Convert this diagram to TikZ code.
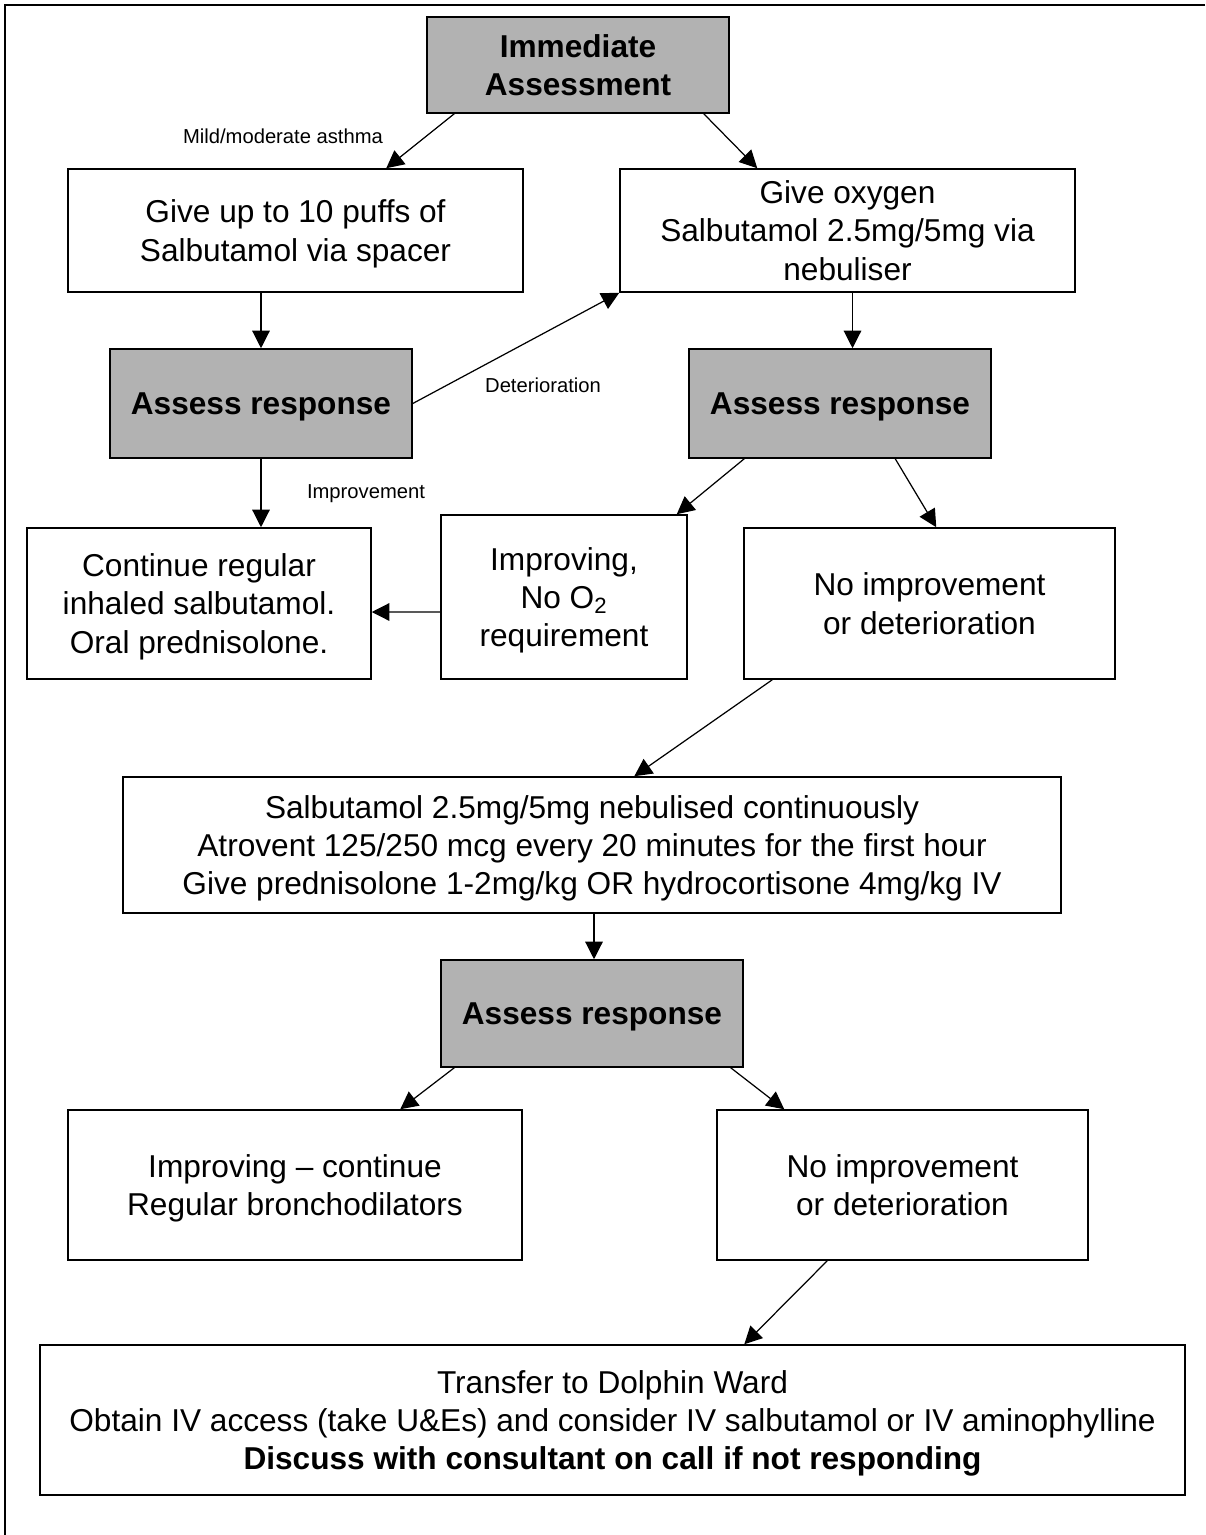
\documentclass[tikz,border=0pt]{standalone}
\usepackage{fontspec}
\setmainfont{Liberation Sans}
\usetikzlibrary{arrows.meta,calc}
\definecolor{boxgray}{RGB}{178,178,178}
\tikzset{
  flowbox/.style = {
    draw, line width=0.9pt, align=center, inner sep=0pt, text depth=-1pt,
    font=\fontsize{18}{21.8}\selectfont
  },
  assessbox/.style = {
    flowbox, fill=boxgray,
    font=\fontsize{18}{21.8}\selectfont\bfseries
  },
  note/.style = {font=\fontsize{11.5}{13}\selectfont},
  flow/.style = {->, line width=0.7pt}
}
\tikzset{>={Triangle[length=10pt,width=10pt]}}

\begin{document}
\begin{tikzpicture}[x=0.02cm,y=-0.02cm]
  \useasboundingbox (0,0) rectangle (1205,1535);
  \draw[line width=1.2pt] (1205,5) -- (5,5) -- (5,1535);

  % boxes
  \node[assessbox, minimum width=6.04cm, minimum height=1.92cm] (immediate) at (578,65) {Immediate\\Assessment};
  \node[flowbox, minimum width=9.1cm, minimum height=2.46cm] (puffs) at (295.5,230.5) {Give up to 10 puffs of\\Salbutamol via spacer};
  \node[flowbox, minimum width=9.1cm, minimum height=2.46cm] (oxygen) at (847.5,230.5) {Give oxygen\\Salbutamol 2.5mg/5mg via\\nebuliser};
  \node[assessbox, minimum width=6.04cm, minimum height=2.18cm] (assessA) at (261,403.5) {Assess response};
  \node[assessbox, minimum width=6.04cm, minimum height=2.18cm] (assessB) at (840,403.5) {Assess response};
  \node[flowbox, minimum width=6.88cm, minimum height=3.02cm] (regular) at (199,603.5) {Continue regular\\inhaled salbutamol.\\Oral prednisolone.};
  \node[flowbox, minimum width=4.92cm, minimum height=3.28cm] (noox) at (564,597) {Improving,\\No O\textsubscript{2}\\requirement};
  \node[flowbox, minimum width=7.42cm, minimum height=3.02cm] (worseA) at (929.5,603.5) {No improvement\\or deterioration};
  \node[flowbox, minimum width=18.76cm, minimum height=2.72cm] (continuous) at (592,845) {Salbutamol 2.5mg/5mg nebulised continuously\\Atrovent 125/250 mcg every 20 minutes for the first hour\\Give prednisolone 1-2mg/kg OR hydrocortisone 4mg/kg IV};
  \node[assessbox, minimum width=6.04cm, minimum height=2.14cm] (assessC) at (592,1013.5) {Assess response};
  \node[flowbox, minimum width=9.08cm, minimum height=3cm] (bronchodil) at (295,1185) {Improving -- continue\\Regular bronchodilators};
  \node[flowbox, minimum width=7.42cm, minimum height=3cm] (worseB) at (902.5,1185) {No improvement\\or deterioration};
  \node[flowbox, minimum width=22.9cm, minimum height=3cm] (transfer) at (612.5,1420) {Transfer to Dolphin Ward\\Obtain IV access (take U\&Es) and consider IV salbutamol or IV aminophylline\\\textbf{Discuss with consultant on call if not responding}};

  % labels
  \node[note] (mild) at (283,136) {Mild/moderate asthma};
  \node[note] (deter) at (543,385) {Deterioration};
  \node[note] (improve) at (366,494) {Improvement};

  % connectors
  \draw[flow] ($(immediate.south west)+(28,0)$) -- ($(puffs.north west)+(319,0)$);
  \draw[flow] ($(immediate.south east)+(-26,0)$) -- ($(oxygen.north west)+(138,0)$);
  \draw[flow] (assessA.north |- puffs.south) -- (assessA.north);
  \draw[flow] ($(oxygen.south)+(5,0)$) -- ($(assessB.north)+(12.5,0)$);
  \draw[flow] (assessA.east) -- (oxygen.south west);
  \draw[flow] (assessA.south) -- (assessA.south |- regular.north);
  \draw[flow] ($(assessB.south west)+(56,0)$) -- ($(noox.north east)+(-11,0)$);
  \draw[flow] ($(assessB.south west)+(207,0)$) -- ($(worseA.north west)+(193,0)$);
  \draw[flow] ($(noox.west)+(0,15)$) -- ($(regular.east)+(0,8.5)$);
  \draw[flow] ($(worseA.south west)+(29,0)$) -- ($(continuous.north west)+(512,0)$);
  \draw[flow] ($(continuous.south)+(2,0)$) -- ($(assessC.north)+(2,0)$);
  \draw[flow] ($(assessC.south west)+(14,0)$) -- ($(bronchodil.north west)+(333,0)$);
  \draw[flow] ($(assessC.south east)+(-13,0)$) -- ($(worseB.north west)+(68,0)$);
  \draw[flow] ($(worseB.south west)+(111,0)$) -- ($(transfer.north west)+(705,0)$);
\end{tikzpicture}
\end{document}
